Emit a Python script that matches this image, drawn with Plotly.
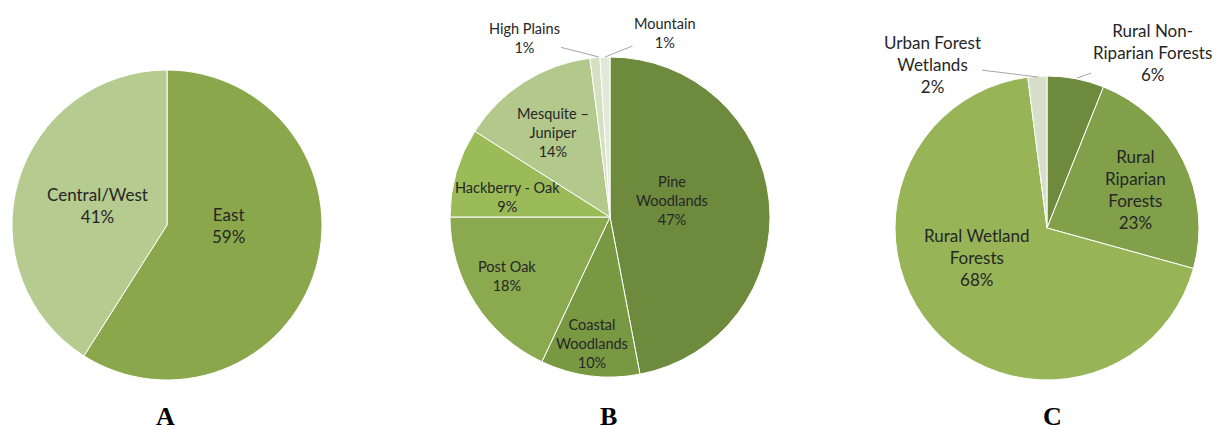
import plotly.graph_objects as go

W, H = 1222, 430
OFF = 8  # the page body adds an 8px margin around the figure

# ---- data ----
a_labels = ["East", "Central/West"]
a_values = [59, 41]
a_colors = ["#8aa84b", "#b5cb90"]

b_labels = ["Pine<br>Woodlands", "Coastal<br>Woodlands", "Post Oak", "Hackberry - Oak",
            "Mesquite –<br>Juniper", "High Plains", "Mountain"]
b_values = [47, 10, 18, 9, 14, 1, 1]
b_colors = ["#6e8b3d", "#799842", "#8ba94f", "#9bbb59", "#b3c98b", "#d5e0c0", "#e3e9d8"]

c_labels = ["Rural Non-<br>Riparian Forests", "Rural<br>Riparian<br>Forests",
            "Rural Wetland<br>Forests", "Urban Forest<br>Wetlands"]
c_values = [6, 23, 68, 2]
c_colors = ["#6e8b3d", "#82a04a", "#97b556", "#d7dfca"]

panel_letters = ["A", "B", "C"]


def px(x, y):
    return (x - OFF) / W, 1 - (y - OFF) / H


def dom(x0, x1, y0, y1):
    return dict(x=[(x0 - OFF) / W, (x1 - OFF) / W], y=[1 - (y1 - OFF) / H, 1 - (y0 - OFF) / H])


fig = go.Figure()

pies = [
    (a_labels, a_values, a_colors, dom(12, 322, 70, 380)),
    (b_labels, b_values, b_colors, dom(450, 770, 57, 377)),
    (c_labels, c_values, c_colors, dom(895, 1199, 76, 380)),
]
for labels, values, colors, d in pies:
    fig.add_trace(go.Pie(
        labels=labels, values=values, sort=False, direction="clockwise",
        rotation=0, textinfo="none", hoverinfo="label+percent",
        marker=dict(colors=colors, line=dict(color="white", width=1)),
        domain=d, showlegend=False,
    ))

annotations = []


def label(text, val, x, y, size, arrow_to=None):
    xx, yy = px(x, y)
    ann = dict(text=f"{text}<br>{val}%", x=xx, y=yy, xref="paper", yref="paper",
               xanchor="center", yanchor="middle", showarrow=False,
               font=dict(family="Lato, sans-serif", size=size, color="#262626"),
               align="center")
    if arrow_to is not None:
        tx, ty = px(*arrow_to)
        ann.update(x=tx, y=ty, showarrow=True, arrowhead=0, arrowwidth=1,
                   arrowcolor="#a6a6a6", ax=x - arrow_to[0], ay=y - arrow_to[1], standoff=0)
    annotations.append(ann)


# pie A
label(a_labels[0], a_values[0], 228, 225, 17)
label(a_labels[1], a_values[1], 97, 205, 17)
# pie B
label(b_labels[0], b_values[0], 672, 200, 14.5)
label(b_labels[1], b_values[1], 592, 343, 14.5)
label(b_labels[2], b_values[2], 507, 276, 14.5)
label(b_labels[3], b_values[3], 507, 197, 14.5)
label(b_labels[4], b_values[4], 553, 132, 14.5)
label(b_labels[5], b_values[5], 524, 38, 14.5, arrow_to=(599, 57))
label(b_labels[6], b_values[6], 665, 33, 14.5, arrow_to=(605, 57))
# pie C
label(c_labels[0], c_values[0], 1152, 52, 17, arrow_to=(1077, 78))
label(c_labels[1], c_values[1], 1135, 190, 17)
label(c_labels[2], c_values[2], 977, 257, 17)
label(c_labels[3], c_values[3], 932, 64, 17, arrow_to=(1038, 77))

for letter, x in zip(panel_letters, [165, 608, 1052]):
    xx, yy = px(x, 416)
    annotations.append(dict(text=f"<b>{letter}</b>", x=xx, y=yy, xref="paper", yref="paper",
                            xanchor="center", yanchor="middle", showarrow=False,
                            font=dict(family="Liberation Serif, Times New Roman, serif",
                                      size=26, color="black")))

fig.update_layout(
    width=W, height=H,
    margin=dict(l=0, r=0, t=0, b=0),
    paper_bgcolor="white", plot_bgcolor="white",
    annotations=annotations,
)

fig.write_html("out.html")
